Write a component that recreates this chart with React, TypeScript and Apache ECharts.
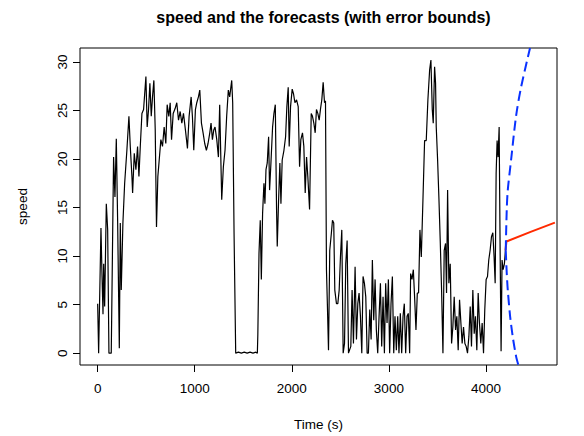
import React, { useEffect, useRef } from "react";
import * as echarts from "echarts";

const speedTime = [
  0, 10, 34, 45, 55, 62, 72, 89, 103, 116, 140, 164, 178, 192, 206, 223, 233, 243, 260, 278,
  301, 322, 336, 353, 360, 377, 394, 411, 425, 439, 456, 473, 497, 510, 524, 538, 552, 565, 579, 593,
  606, 620, 634, 651, 668, 685, 702, 716, 733, 747, 761, 778, 798, 815, 833, 850, 867, 884, 904, 925,
  942, 963, 976, 990, 1007, 1021, 1038, 1052, 1069, 1086, 1103, 1120, 1137, 1155, 1168, 1182, 1196, 1209, 1227, 1244,
  1257, 1278, 1295, 1312, 1329, 1346, 1360, 1381, 1391, 1405, 1422, 1450, 1480, 1510, 1540, 1570, 1600, 1630, 1645, 1650,
  1662, 1675, 1686, 1699, 1713, 1723, 1734, 1747, 1761, 1771, 1785, 1802, 1816, 1830, 1843, 1850, 1864, 1877, 1888, 1901,
  1919, 1936, 1949, 1963, 1973, 1987, 2004, 2018, 2032, 2049, 2066, 2080, 2093, 2110, 2124, 2138, 2152, 2165, 2183, 2200,
  2213, 2227, 2241, 2254, 2268, 2282, 2296, 2309, 2323, 2337, 2347, 2357, 2367, 2378, 2391, 2408, 2419, 2432, 2443, 2460,
  2474, 2488, 2501, 2515, 2529, 2543, 2556, 2570, 2584, 2608, 2621, 2635, 2652, 2666, 2680, 2693, 2707, 2721, 2734, 2748,
  2762, 2776, 2789, 2803, 2817, 2830, 2844, 2858, 2871, 2885, 2899, 2913, 2926, 2940, 2954, 2967, 2981, 2995, 3008, 3022,
  3036, 3050, 3063, 3077, 3091, 3104, 3118, 3132, 3146, 3159, 3173, 3187, 3200, 3214, 3224, 3238, 3252, 3265, 3279, 3293,
  3306, 3320, 3334, 3351, 3368, 3385, 3402, 3420, 3433, 3447, 3457, 3471, 3481, 3488, 3502, 3516, 3529, 3543, 3557, 3570,
  3584, 3594, 3605, 3618, 3632, 3646, 3659, 3673, 3687, 3700, 3714, 3728, 3742, 3755, 3769, 3783, 3796, 3810, 3824, 3838,
  3851, 3865, 3879, 3892, 3906, 3920, 3933, 3947, 3961, 3975, 3988, 4002, 4016, 4029, 4043, 4057, 4071, 4084, 4095, 4105,
  4115, 4125, 4136, 4146, 4156, 4166, 4177, 4190, 4201,
];

const speedValue = [
  5.1, 0, 12.9, 7.9, 4.0, 9.2, 4.8, 15.4, 12.7, 0, 0, 20.2, 16.1, 22.1, 13.4, 0.5, 13.4, 6.5, 13.4, 17.5,
  20.9, 24.4, 21.3, 18.2, 16.5, 20.6, 18.9, 21.3, 18.2, 21.3, 24.7, 25.1, 28.5, 23.3, 25.1, 27.8, 24.4, 26.4, 28.1, 23.0,
  13.0, 18.2, 19.9, 22.0, 21.3, 23.3, 21.6, 25.6, 24.4, 25.8, 22.0, 24.7, 25.2, 25.8, 24.0, 24.9, 23.7, 24.7, 23.0, 21.1,
  24.4, 26.4, 24.4, 20.9, 25.1, 25.8, 26.4, 27.1, 23.7, 22.7, 21.6, 20.9, 21.6, 22.7, 23.7, 22.0, 23.0, 23.3, 22.0, 20.2,
  25.6, 15.8, 19.2, 20.9, 24.4, 27.1, 26.4, 28.1, 25.8, 12.4, 0, 0.1, 0, 0.1, 0, 0.1, 0, 0.1, 0, 1.9,
  10.3, 13.7, 7.6, 14.4, 17.5, 15.4, 18.9, 19.6, 22.3, 16.8, 19.6, 23.3, 24.7, 25.6, 14.8, 11.0, 15.8, 19.6, 15.4, 19.9,
  20.9, 22.3, 25.4, 27.4, 21.3, 25.4, 27.2, 26.7, 25.8, 26.1, 25.4, 19.2, 22.0, 22.7, 21.3, 16.5, 20.2, 18.2, 14.8, 24.7,
  24.4, 23.7, 22.7, 25.1, 24.7, 24.0, 25.2, 26.1, 27.9, 25.8, 26.0, 8.6, 4.8, 0.3, 10.6, 12.4, 13.7, 13.4, 6.5, 5.1,
  5.1, 6.5, 9.9, 12.7, 0, 1.0, 9.2, 11.6, 0, 0.7, 6.5, 1.0, 8.9, 1.4, 5.1, 6.2, 3.8, 0, 7.9, 7.2,
  5.8, 0, 0, 4.5, 1.4, 9.6, 3.4, 7.6, 2.4, 0, 3.8, 7.2, 0.7, 5.8, 0, 7.2, 3.1, 7.6, 0, 5.1,
  7.9, 0, 3.8, 0.3, 3.8, 0, 4.1, 0, 3.8, 5.1, 0, 3.8, 4.1, 0, 8.2, 7.6, 8.6, 5.8, 2.4, 6.2,
  6.2, 12.7, 9.9, 15.8, 21.9, 21.9, 26.1, 29.2, 30.2, 25.1, 23.7, 29.5, 27.8, 23.3, 19.9, 15.8, 11.6, 6.5, 0, 10.6,
  11.3, 6.2, 16.8, 7.2, 9.2, 1.0, 2.7, 5.8, 2.4, 3.8, 0.3, 5.5, 3.1, 1.0, 2.7, 1.0, 0.7, 0, 1.7, 4.8,
  0.7, 6.5, 2.0, 3.8, 0.3, 6.2, 3.1, 1.0, 3.1, 0, 4.5, 7.6, 7.9, 9.6, 10.6, 12.0, 12.4, 9.9, 7.2, 18.5,
  21.9, 20.2, 23.3, 10.6, 0.2, 9.6, 8.6, 9.2, 10.6,
];

const forecastTime = [4201, 4211, 4460, 4710];
const forecastValue = [10.6, 11.5, 12.5, 13.45];

const upperTime = [4204, 4214, 4225, 4259, 4310, 4362, 4454];
const upperValue = [10.6, 14.7, 16.8, 19.9, 24.4, 27.4, 31.44];

const lowerTime = [4204, 4214, 4225, 4249, 4276, 4310, 4334];
const lowerValue = [10.6, 8.3, 6.5, 3.8, 1.7, -0.3, -1.22];

const xTicks = [0, 1000, 2000, 3000, 4000];
const yTicks = [0, 5, 10, 15, 20, 25, 30];

const FONT = "'Liberation Sans', Arial, Helvetica, sans-serif";

function zip(a: number[], b: number[]) {
  return a.map((t, i) => [t, b[i]]);
}

export default function App() {
  const ref = useRef<HTMLDivElement>(null);
  useEffect(() => {
    if (!ref.current) return;
    document.body.style.margin = "0";
    const chart = echarts.init(ref.current, null, { renderer: "svg" });
    chart.setOption({
      animation: false,
      backgroundColor: "#ffffff",
      title: {
        text: "speed and the forecasts (with error bounds)",
        left: 318.5,
        top: 4,
        textAlign: "center",
        textStyle: { fontFamily: FONT, fontSize: 16, fontWeight: "bold", color: "#000" },
      },
      grid: {
        left: 80,
        right: 27,
        top: 48,
        bottom: 71,
        show: true,
        borderColor: "#000",
        borderWidth: 1,
        backgroundColor: "transparent",
        containLabel: false,
      },
      xAxis: {
        type: "value",
        min: -182,
        max: 4732,
        name: "Time (s)",
        nameLocation: "middle",
        nameGap: 52,
        nameTextStyle: { fontFamily: FONT, fontSize: 13.5, color: "#000" },
        axisLine: { show: false, onZero: false },
        splitLine: { show: false },
        axisTick: {
          show: true,
          inside: false,
          length: 7,
          customValues: xTicks,
          lineStyle: { color: "#000", width: 1 },
        },
        axisLabel: {
          customValues: xTicks,
          margin: 16,
          fontFamily: FONT,
          fontSize: 13.5,
          color: "#000",
          formatter: (v: number) => String(v),
        },
      },
      yAxis: {
        type: "value",
        min: -1.22,
        max: 31.44,
        name: "speed",
        nameLocation: "middle",
        nameGap: 51,
        nameTextStyle: { fontFamily: FONT, fontSize: 13.5, color: "#000" },
        axisLine: { show: false, onZero: false },
        splitLine: { show: false },
        axisTick: {
          show: true,
          inside: false,
          length: 7,
          customValues: yTicks,
          lineStyle: { color: "#000", width: 1 },
        },
        axisLabel: {
          customValues: yTicks,
          rotate: 90,
          margin: 11,
          fontFamily: FONT,
          fontSize: 13.5,
          color: "#000",
          formatter: (v: number) => String(v),
        },
      },
      series: [
        {
          name: "speed",
          type: "line",
          data: zip(speedTime, speedValue),
          showSymbol: false,
          symbol: "none",
          lineStyle: { color: "#000", width: 1.2 },
          clip: true,
        },
        {
          name: "forecast",
          type: "line",
          data: zip(forecastTime, forecastValue),
          showSymbol: false,
          symbol: "none",
          lineStyle: { color: "#FF2A00", width: 2 },
          clip: true,
        },
        {
          name: "upper",
          type: "line",
          data: zip(upperTime, upperValue),
          showSymbol: false,
          symbol: "none",
          smooth: 0.3,
          lineStyle: { color: "#0A32FF", width: 2, type: [10, 5] },
          clip: true,
        },
        {
          name: "lower",
          type: "line",
          data: zip(lowerTime, lowerValue),
          showSymbol: false,
          symbol: "none",
          smooth: 0.3,
          lineStyle: { color: "#0A32FF", width: 2, type: [10, 5] },
          clip: true,
        },
      ],
    });
    return () => chart.dispose();
  }, []);
  return (
    <div
      ref={ref}
      style={{ width: 584, height: 436, position: "absolute", left: 0, top: 0 }}
    />
  );
}
